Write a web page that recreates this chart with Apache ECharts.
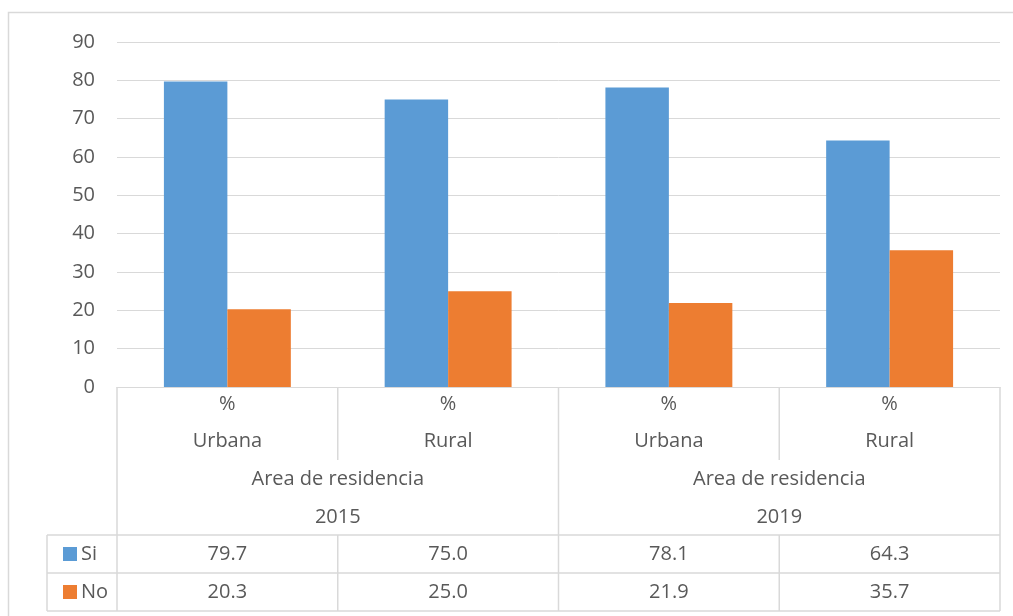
<!DOCTYPE html>
<html><head><meta charset="utf-8">
<script src="https://cdn.jsdelivr.net/npm/echarts@6/dist/echarts.min.js"></script>
<style>html,body{margin:0;padding:0;background:#fff}#c{width:1013px;height:616px}</style>
</head><body><div id="c"></div>
<script>
var categories = ["Urbana", "Rural", "Urbana", "Rural"];
var unitLabels = ["%", "%", "%", "%"];
var groupLabel = "Area de residencia";
var years = ["2015", "2019"];
var seriesNames = ["Si", "No"];
var siValues = [79.7, 75.0, 78.1, 64.3];
var noValues = [20.3, 25.0, 21.9, 35.7];
var yTicks = [0, 10, 20, 30, 40, 50, 60, 70, 80, 90];

var colors = ["#5B9BD5", "#ED7D31"];
var lineC = "#d9d9d9";
var textC = "#595959";
var FONT = "Open Sans";
var FS = 20;

var chart = echarts.init(document.getElementById('c'), null, {renderer: 'canvas'});
var option = {
  animation: false,
  backgroundColor: '#fff',
  grid: {left: 117, right: 13, top: 42, bottom: 229, containLabel: false},
  xAxis: {
    type: 'category', data: categories,
    axisLine: {show: true, lineStyle: {color: lineC, width: 1}},
    axisTick: {show: false}, axisLabel: {show: false}, splitLine: {show: false}
  },
  yAxis: {
    type: 'value', min: yTicks[0], max: yTicks[yTicks.length - 1], interval: 10,
    axisLine: {show: false}, axisTick: {show: false},
    axisLabel: {color: textC, fontFamily: FONT, fontSize: FS, margin: 22},
    splitLine: {lineStyle: {color: lineC, width: 1}}
  },
  series: [
    {name: seriesNames[0], type: 'bar', data: siValues, barGap: '0%', barCategoryGap: '42.5%',
     itemStyle: {color: colors[0]}},
    {name: seriesNames[1], type: 'bar', data: noValues, barGap: '0%', barCategoryGap: '42.5%',
     itemStyle: {color: colors[1]}}
  ]
};
chart.setOption(option);

var y0 = chart.convertToPixel({yAxisIndex: 0}, 0);
var centers = categories.map(function (c, i) { return chart.convertToPixel({xAxisIndex: 0}, i); });
var catW = centers[1] - centers[0];
var xL = centers[0] - catW / 2;
var xR = centers[centers.length - 1] + catW / 2;
var bounds = [];
for (var i = 0; i <= categories.length; i++) bounds.push(xL + i * catW);
var rowH = 38;
var rUnit = y0 + 17, rCat = y0 + 54, rGroup = y0 + 92, rYear = y0 + 130;
var hdrBottom = y0 + 148;
var rowNo = hdrBottom + rowH, tableBottom = hdrBottom + 2 * rowH;
var legX = 47;
var g = [];
function line(x1, y1, x2, y2) {
  g.push({type: 'line', shape: {x1: x1, y1: y1, x2: x2, y2: y2}, style: {stroke: lineC, lineWidth: 1.5}, silent: true});
}
function txt(x, y, s, align) {
  g.push({type: 'text', x: x, y: y, style: {text: s, fill: textC, font: FS + 'px "' + FONT + '"', align: align || 'center', verticalAlign: 'middle'}, silent: true});
}
g.push({type: 'rect', shape: {x: 8.5, y: 12.5, width: 1012, height: 612}, style: {fill: null, stroke: lineC, lineWidth: 1.5}, silent: true});
line(xL, y0, xL, tableBottom);
line(xR, y0, xR, tableBottom);
line(bounds[2], y0, bounds[2], tableBottom);
[1, 3].forEach(function (k) {
  line(bounds[k], y0, bounds[k], y0 + 73);
  line(bounds[k], hdrBottom, bounds[k], tableBottom);
});
[hdrBottom, rowNo, tableBottom].forEach(function (yy) { line(legX, yy, xR, yy); });
line(legX, hdrBottom, legX, tableBottom);
categories.forEach(function (c, i) {
  txt(centers[i], rUnit, unitLabels[i]);
  txt(centers[i], rCat, c);
});
years.forEach(function (yr, k) {
  var cx = (centers[2 * k] + centers[2 * k + 1]) / 2;
  txt(cx, rGroup, groupLabel);
  txt(cx, rYear, yr);
});
var rows = [siValues, noValues];
rows.forEach(function (vals, r) {
  var cy = hdrBottom + r * rowH + rowH / 2;
  g.push({type: 'rect', shape: {x: 63, y: cy - 7, width: 14, height: 14}, style: {fill: colors[r]}, silent: true});
  txt(81, cy, seriesNames[r], 'left');
  vals.forEach(function (v, i) { txt(centers[i], cy, v.toFixed(1)); });
});
chart.setOption({graphic: {elements: g}});
</script></body></html>
